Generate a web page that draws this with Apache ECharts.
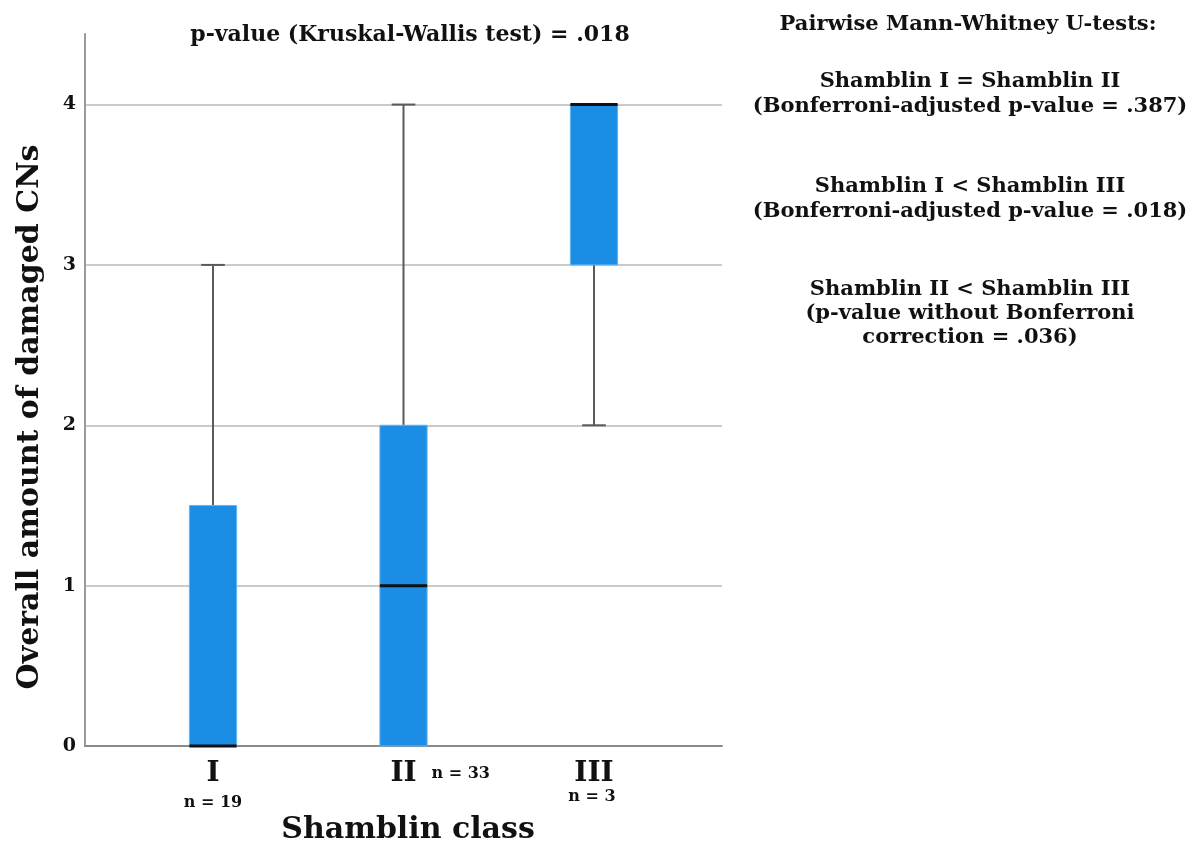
<!DOCTYPE html>
<html>
<head>
<meta charset="utf-8">
<script src="https://cdn.jsdelivr.net/npm/echarts@6/dist/echarts.min.js"></script>
<style>
  html, body { margin: 0; padding: 0; background: #fff; }
  #chart { width: 1190px; height: 846px; }
</style>
</head>
<body>
<div id="chart"></div>
<script>
// box statistics per Shamblin class
const categories = ['I', 'II', 'III']
const whiskerLow = [0, 0, 2]
const lowerQuartile = [0, 0, 3]
const medians = [0, 1, 4]
const upperQuartile = [1.5, 2, 4]
const whiskerHigh = [3, 4, 4]
const sampleSizes = [19, 33, 3]

const pairwiseNotes = [
  'Shamblin I = Shamblin II\n(Bonferroni-adjusted p-value = .387)',
  'Shamblin I < Shamblin III\n(Bonferroni-adjusted p-value = .018)',
  'Shamblin II < Shamblin III\n(p-value without Bonferroni\ncorrection = .036)',
]

// where the "n = .." labels sit relative to the category tick (px)
const nLabelOffsets = [[0, 57], [28, 28], [-2, 51]]

const serif = '"DejaVu Serif", "Liberation Serif", serif'
const Y_MAX = 4.44

const boxData = categories.map((c, i) => [
  i, whiskerLow[i], lowerQuartile[i], medians[i], upperQuartile[i], whiskerHigh[i], sampleSizes[i],
])

function renderBox(params, api) {
  const i = api.value(0)
  const lo = api.value(1), q1 = api.value(2), med = api.value(3), q3 = api.value(4), hi = api.value(5)
  const x = api.coord([i, 0])[0]
  const yBase = api.coord([i, 0])[1]
  const band = api.size([1, 0])[0]
  const half = band * 0.124
  const capHalf = band * 0.062
  const y = (v) => api.coord([i, v])[1]
  const whisker = { stroke: '#5a5a5a', lineWidth: 2 }
  const children = []
  if (hi > q3) {
    children.push({ type: 'line', shape: { x1: x, y1: y(q3), x2: x, y2: y(hi) }, style: whisker })
    children.push({ type: 'line', shape: { x1: x - capHalf, y1: y(hi), x2: x + capHalf, y2: y(hi) }, style: whisker })
  }
  if (lo < q1) {
    children.push({ type: 'line', shape: { x1: x, y1: y(lo), x2: x, y2: y(q1) }, style: whisker })
    children.push({ type: 'line', shape: { x1: x - capHalf, y1: y(lo), x2: x + capHalf, y2: y(lo) }, style: whisker })
  }
  children.push({
    type: 'rect',
    shape: { x: x - half, y: y(q3), width: half * 2, height: y(q1) - y(q3) },
    style: { fill: '#1b8de4', stroke: '#62b6f2', lineWidth: 1 },
  })
  children.push({
    type: 'line',
    shape: { x1: x - half, y1: y(med), x2: x + half, y2: y(med) },
    style: { stroke: '#111', lineWidth: 3 },
  })
  const off = nLabelOffsets[i]
  children.push({
    type: 'text',
    style: {
      text: 'n = ' + api.value(6),
      x: x + off[0],
      y: yBase + off[1],
      align: off[0] > 0 ? 'left' : 'center',
      verticalAlign: 'middle',
      font: 'bold 16px ' + serif,
      fill: '#111',
    },
  })
  return { type: 'group', children: children }
}

const chart = echarts.init(document.getElementById('chart'))

const option = {
  backgroundColor: '#fff',
  animation: false,
  grid: [
    { left: 85, right: 468, top: 34, bottom: 100 },
    { left: 117.75, right: 500.75, top: 34, bottom: 100 },
  ],
  xAxis: [
    {
      gridIndex: 0, type: 'value', min: 0, max: 1,
      axisLine: { show: true, lineStyle: { color: '#8a8a8a', width: 2 } },
      axisTick: { show: false }, axisLabel: { show: false }, splitLine: { show: false },
    },
    {
      gridIndex: 1, type: 'category', data: categories,
      axisLine: { show: false }, axisTick: { show: false },
      axisLabel: { margin: 14, color: '#111', fontFamily: serif, fontWeight: 'bold', fontSize: 28 },
    },
  ],
  yAxis: [
    {
      gridIndex: 0, type: 'value', min: 0, max: Y_MAX, interval: 1,
      axisLine: { show: true, lineStyle: { color: '#9a9a9a', width: 2 } },
      axisTick: { show: false },
      axisLabel: {
        margin: 9, color: '#111', fontFamily: serif, fontWeight: 'bold', fontSize: 19,
        showMaxLabel: false,
        formatter: (v) => (Number.isInteger(v) ? String(v) : ''),
      },
      splitLine: { show: true, showMaxLine: false, showMinLine: false, lineStyle: { color: '#b9b9b9', width: 1.5 } },
    },
    {
      gridIndex: 1, type: 'value', min: 0, max: Y_MAX, show: false, splitLine: { show: false },
    },
  ],
  series: [
    {
      type: 'custom',
      xAxisIndex: 1,
      yAxisIndex: 1,
      clip: false,
      renderItem: renderBox,
      encode: { x: 0, y: [1, 2, 3, 4, 5] },
      data: boxData,
      z: 5,
    },
  ],
  graphic: [
    {
      type: 'text',
      style: {
        text: 'p-value (Kruskal-Wallis test) = .018',
        x: 410, y: 35, align: 'center', verticalAlign: 'middle',
        font: 'bold 22px ' + serif, fill: '#111',
      },
    },
    {
      type: 'text',
      style: {
        text: 'Pairwise Mann-Whitney U-tests:', x: 968, y: 25, align: 'center', verticalAlign: 'middle',
        font: 'bold 21px ' + serif, fill: '#111',
      },
    },
    {
      type: 'text',
      style: {
        text: pairwiseNotes[0], x: 970, y: 94, align: 'center', verticalAlign: 'middle',
        font: 'bold 21px ' + serif, lineHeight: 25, fill: '#111',
      },
    },
    {
      type: 'text',
      style: {
        text: pairwiseNotes[1], x: 970, y: 199, align: 'center', verticalAlign: 'middle',
        font: 'bold 21px ' + serif, lineHeight: 25, fill: '#111',
      },
    },
    {
      type: 'text',
      style: {
        text: pairwiseNotes[2], x: 970, y: 314, align: 'center', verticalAlign: 'middle',
        font: 'bold 21px ' + serif, lineHeight: 24, fill: '#111',
      },
    },
    {
      type: 'text', x: 30, y: 417, rotation: Math.PI / 2,
      style: {
        text: 'Overall amount of damaged CNs', x: 0, y: 0, align: 'center', verticalAlign: 'middle',
        font: 'bold 30px ' + serif, fill: '#111',
      },
    },
    {
      type: 'text',
      style: {
        text: 'Shamblin class', x: 408, y: 830, align: 'center', verticalAlign: 'middle',
        font: 'bold 30px ' + serif, fill: '#111',
      },
    },
  ],
}

chart.setOption(option)
</script>
</body>
</html>
